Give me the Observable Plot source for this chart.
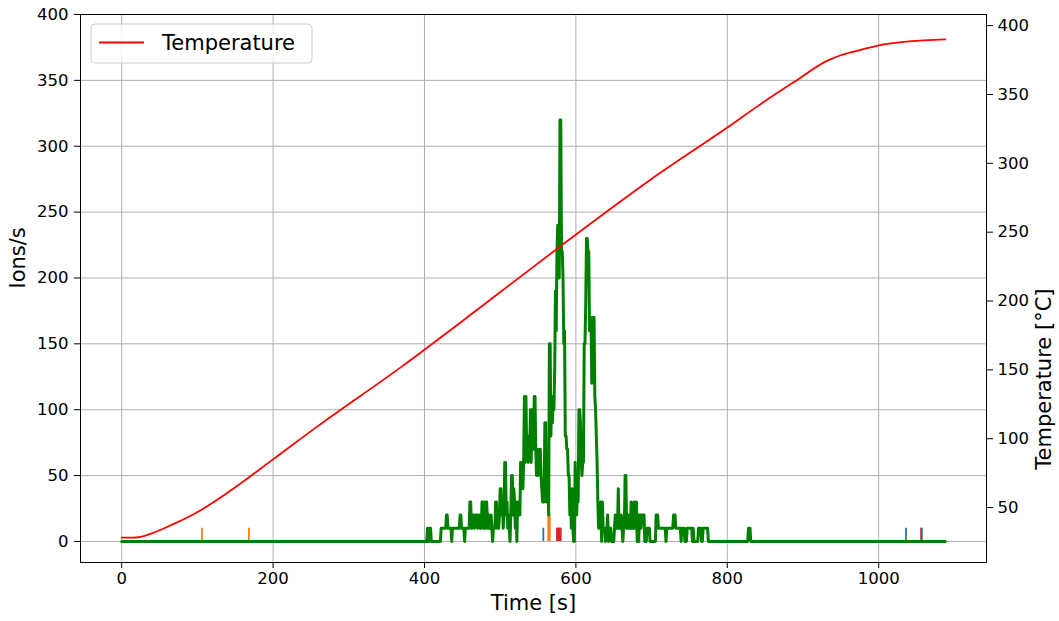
<!DOCTYPE html>
<html>
<head>
<meta charset="utf-8">
<script src="https://cdn.jsdelivr.net/npm/d3@7"></script>
<script src="https://cdn.jsdelivr.net/npm/@observablehq/plot@0.6"></script>
<style>
  html, body { margin: 0; padding: 0; background: #fff; }
  #chart { width: 1059px; height: 621px; }
</style>
</head>
<body>
<div id="chart"></div>
<script>
// ---------------- DATA ----------------
// Time axis ticks and ion-rate axis ticks
const xTicks = [0, 200, 400, 600, 800, 1000];
const yTicks = [0, 50, 100, 150, 200, 250, 300, 350, 400];
const tempTicks = [50, 100, 150, 200, 250, 300, 350, 400];

const timeEnd = 1088; // last sample time [s]

// Temperature curve (read points)
const tempTime   = [0, 15, 25, 40, 66, 105, 142, 200, 260, 369, 480, 580, 699, 800, 844, 888, 933, 950, 970, 999, 1040, 1088];
const tempValues = [28.2, 28.2, 28.8, 31.3, 37.4, 48.3, 61.6, 85, 109.5, 152, 198, 240, 288.3, 326, 343, 359, 374.8, 378.5, 381.5, 385.5, 388.5, 390];

// Green ion signal, one sample per second starting at ionStart (zero elsewhere)
const ionStart = 400;
const ionValues = [
  0,0,0,0,10,0,0,10,10,0,          // 400
  0,0,0,0,0,0,0,0,0,0,             // 410
  0,0,10,10,10,10,10,10,10,20,     // 420
  20,10,10,10,10,10,0,10,10,10,    // 430
  10,10,10,10,10,10,10,20,20,10,   // 440
  10,10,10,0,10,10,10,10,10,10,    // 450
  30,30,10,10,20,20,10,20,20,20,   // 460
  10,20,20,10,10,10,30,30,10,10,   // 470
  30,10,30,20,10,20,10,10,20,10,   // 480
  0,10,10,10,30,30,10,20,10,20,    // 490
  40,40,20,30,10,20,60,60,20,30,   // 500
  10,20,10,0,20,50,50,20,40,30,    // 510
  10,30,0,30,20,30,20,60,40,60,    // 520
  40,60,110,60,110,70,80,60,80,70, // 530
  100,60,100,90,70,110,110,70,50,70, // 540
  50,60,70,70,50,40,30,40,30,90,   // 550
  90,30,40,60,20,150,150,80,110,90, // 560
  110,100,130,190,160,220,240,240,200,320, // 570
  320,220,220,200,150,160,80,80,70,70, // 580
  50,50,20,40,10,40,10,0,0,60,     // 590
  30,20,40,30,100,100,90,60,50,60, // 600
  60,150,150,180,230,230,220,220,160,170, // 610
  170,120,150,170,170,110,100,80,60,30, // 620
  10,10,10,30,0,30,10,10,10,0,     // 630
  10,10,20,0,10,10,10,0,0,0,       // 640
  0,10,20,10,20,10,40,10,20,10,    // 650
  20,10,0,10,10,50,50,10,20,10,    // 660
  20,10,10,30,10,20,10,30,10,10,   // 670
  30,0,0,0,20,20,10,20,20,20,      // 680
  20,0,0,0,10,10,10,10,0,0,        // 690
  0,0,0,0,0,0,20,20,20,10,         // 700
  10,10,10,10,10,10,10,10,10,0,    // 710
  10,10,10,10,10,10,10,10,10,20,   // 720
  20,20,10,10,10,10,10,10,10,0,    // 730
  10,10,10,10,0,0,0,10,10,10,      // 740
  10,10,10,10,0,10,0,0,0,0,        // 750
  0,0,10,10,10,10,0,0,10,10,       // 760
  10,10,10,10,10,0,0,0,0,0,        // 770
  0,0,0,0,0,0,0,0,0,0,             // 780
  0,0,0,0,0,0,0,0,0,0,             // 790
  0,0,0,0,0,0,0,0,0,0,             // 800
  0,0,0,0,0,0,0,0,0,0,             // 810
  0,0,0,0,0,0,0,0,10,10,           // 820
  10,0,0,0,0,0                     // 830
];

// Other (sparse) ion series: blue, orange, red
const blueTime = [557, 1036, 1057];
const blueIons = [10, 10, 10];
const orangeTime = [106, 168, 563.5, 564.5, 565.5];
const orangeIons = [10, 10, 20, 20, 20];
const redTime = [575, 576, 577, 578, 579, 580, 745, 746, 1056];
const redIons = [10, 10, 10, 10, 10, 10, 10, 10, 10];

// ---------------- BUILD ----------------
const ionData = [{t: 0, v: 0}]
  .concat(ionValues.map((v, i) => ({t: ionStart + i, v})))
  .concat([{t: timeEnd, v: 0}]);
const tempData = tempTime.map((t, i) => ({t, T: tempValues[i]}));
const spikes = [
  ...blueTime.map((t, i) => ({t, v: blueIons[i], c: "#1f77b4"})),
  ...orangeTime.map((t, i) => ({t, v: orangeIons[i], c: "#ff7f0e"})),
  ...redTime.map((t, i) => ({t, v: redIons[i], c: "#d62728"}))
];

// matplotlib-like autoscale margins (5%)
const xPad = 0.05 * timeEnd;
const xDomain = [-xPad, timeEnd + xPad];
const yDomain = [-16, 400];
const tMin = d3.min(tempValues), tMax = d3.max(tempValues);
const tPad = 0.05 * (tMax - tMin);
const tDomain = [tMin - tPad, tMax + tPad];
const toY = d3.scaleLinear().domain(tDomain).range(yDomain); // twin-axis mapping

const font = "'DejaVu Sans', sans-serif";
const gridStyle = {stroke: "#b0b0b0", strokeOpacity: 1, strokeWidth: 1};

const svg = Plot.plot({
  width: 1059,
  height: 621,
  marginTop: 14,
  marginRight: 73,
  marginBottom: 59,
  marginLeft: 80,
  style: {fontFamily: font, fontSize: "16.5px", color: "#000", background: "#fff", overflow: "visible"},
  x: {domain: xDomain},
  y: {domain: yDomain},
  marks: [
    Plot.gridX(xTicks, gridStyle),
    Plot.gridY(yTicks, gridStyle),
    Plot.ruleX(spikes, {x: "t", y1: 0, y2: "v", stroke: "c", strokeWidth: 1.8}),
    Plot.line(ionData, {x: "t", y: "v", stroke: "#008000", strokeWidth: 3}),
    Plot.line(tempData, {x: "t", y: d => toY(d.T), stroke: "#ff0000", strokeWidth: 1.8, curve: "monotone-x"}),
    Plot.frame({stroke: "#000", strokeWidth: 1}),
    Plot.axisX(xTicks, {anchor: "bottom", tickSize: 6, tickPadding: 4, label: null, tickFormat: d => String(d)}),
    Plot.axisY(yTicks, {anchor: "left", tickSize: 6, tickPadding: 6, label: null}),
    Plot.axisY(tempTicks.map(toY), {anchor: "right", tickSize: 6, tickPadding: 5, label: null,
      tickFormat: d => String(Math.round(toY.invert(d)))}),
    Plot.text(["Time [s]"], {frameAnchor: "bottom", dy: 47, fontSize: 21, fill: "#000"}),
    Plot.text(["Ions/s"], {frameAnchor: "left", dx: -62, rotate: -90, fontSize: 21, fill: "#000"}),
    Plot.text(["Temperature [°C]"], {frameAnchor: "right", dx: 58, rotate: -90, fontSize: 21, fill: "#000"})
  ]
});

// Legend (upper left, inside axes)
const lg = d3.select(svg).append("g").attr("class", "legend").attr("text-anchor", "start");
lg.append("rect")
  .attr("x", 91).attr("y", 24).attr("width", 221).attr("height", 39)
  .attr("rx", 4).attr("ry", 4)
  .attr("fill", "#fff").attr("fill-opacity", 0.8)
  .attr("stroke", "#cccccc").attr("stroke-width", 1);
lg.append("line")
  .attr("x1", 99).attr("x2", 144).attr("y1", 42.5).attr("y2", 42.5)
  .attr("stroke", "#ff0000").attr("stroke-width", 1.8);
lg.append("text")
  .attr("x", 162).attr("y", 43).attr("dy", "0.35em")
  .attr("text-anchor", "start")
  .attr("font-family", font).attr("font-size", 21).attr("fill", "#000")
  .text("Temperature");

document.getElementById("chart").appendChild(svg);
</script>
</body>
</html>
